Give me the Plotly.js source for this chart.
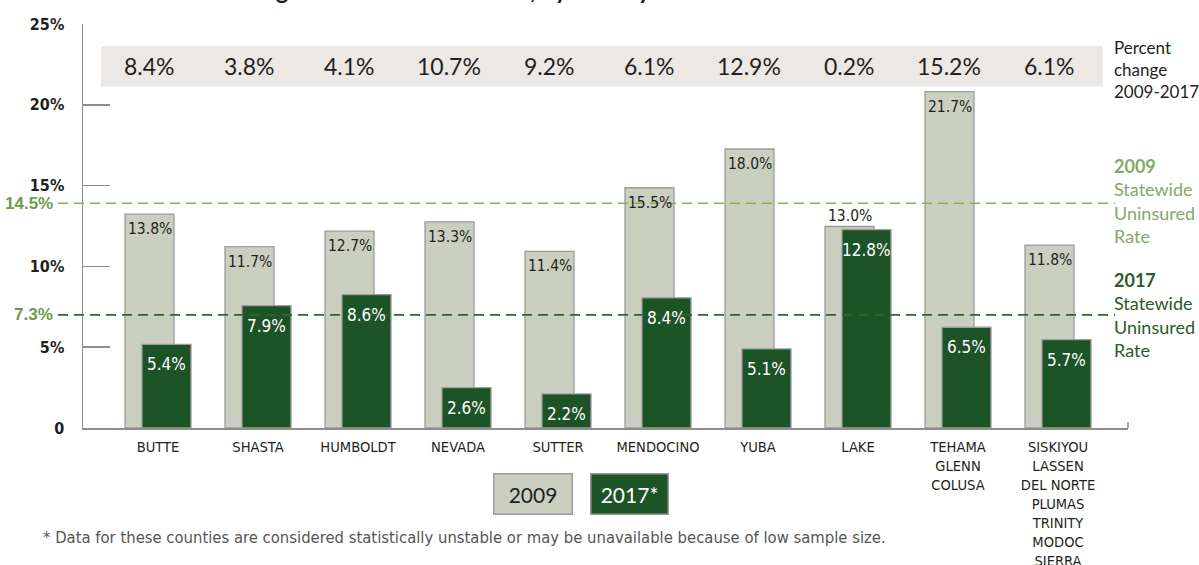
<!DOCTYPE html>
<html>
<head>
<meta charset="utf-8">
<script src="https://cdn.plot.ly/plotly-3.0.1.min.js"></script>
<style>html,body{margin:0;padding:0;background:#fff;}#chart{width:1199px;height:565px;}</style>
</head>
<body>
<div id="chart"></div>
<script>
// ---- data ----
const counties = ["BUTTE","SHASTA","HUMBOLDT","NEVADA","SUTTER","MENDOCINO","YUBA","LAKE",
  "TEHAMA<br>GLENN<br>COLUSA",
  "SISKIYOU<br>LASSEN<br>DEL NORTE<br>PLUMAS<br>TRINITY<br>MODOC<br>SIERRA"];
const rate2009 = [13.8, 11.7, 12.7, 13.3, 11.4, 15.5, 18.0, 13.0, 21.7, 11.8];
const rate2017 = [5.4, 7.9, 8.6, 2.6, 2.2, 8.4, 5.1, 12.8, 6.5, 5.7];
const pctChange = [8.4, 3.8, 4.1, 10.7, 9.2, 6.1, 12.9, 0.2, 15.2, 6.1];
const statewide2009 = 14.5;
const statewide2017 = 7.3;
const yTickVals = [0, 5, 10, 15, 20, 25];
const yTickText = ["0", "5%", "10%", "15%", "20%", "25%"];
const seriesNames = ["2009", "2017*"];
const titleText = "Figure 3: Uninsured Rates, by County in Northern California";
const footnote = "* Data for these counties are considered statistically unstable or may be unavailable because of low sample size.";

// ---- styles ----
const COND = "'Liberation Sans Narrow', 'DejaVu Sans Condensed', 'Arial Narrow', sans-serif";
const REG = "Lato, 'Open Sans', sans-serif";
const DARK_TXT = "#231f20";
const LIGHT_BAR = "#cbcfc0";
const DARK_BAR = "#1c5327";
const OUTLINE = "#9c9c9c";
const AXIS = "#8c8c8c";
const GREEN_L = "#84a866";
const GREEN_D = "#2c5a2b";

const xIdx = counties.map((_, i) => i);
const fmt = v => v.toFixed(1) + "%";

const traces = [
  // carrier for the tick axis (no visible marks)
  {type: "scatter", mode: "lines", x: xIdx, y: xIdx.map(() => null), yaxis: "y",
   hoverinfo: "skip", showlegend: false, line: {width: 0}},
  {type: "bar", name: seriesNames[0], x: xIdx, y: rate2009, yaxis: "y2",
   width: 0.49, offset: -0.33,
   marker: {color: LIGHT_BAR, line: {color: OUTLINE, width: 1.3}},
   hoverinfo: "skip", showlegend: false},
  {type: "bar", name: seriesNames[1], x: xIdx, y: rate2017, yaxis: "y2",
   width: 0.49, offset: -0.16,
   marker: {color: DARK_BAR, line: {color: OUTLINE, width: 1.3}},
   hoverinfo: "skip", showlegend: false}
];

const ann = [];
// 2009 value labels
rate2009.forEach((v, i) => {
  const above = rate2017[i] > v - 1.5;
  ann.push({x: i - 0.085, y: v, xref: "x", yref: "y2", text: fmt(v), showarrow: false,
    xanchor: "center", yanchor: above ? "bottom" : "top", yshift: above ? 0 : -4,
    font: {family: COND, size: 15.5, color: DARK_TXT}});
});
// 2017 value labels
rate2017.forEach((v, i) => {
  ann.push({x: i + 0.085, y: v, xref: "x", yref: "y2", text: fmt(v), showarrow: false,
    xanchor: "center", yanchor: "top", yshift: -8,
    font: {family: COND, size: 17, color: "#ffffff"}});
});
// percent change row
pctChange.forEach((v, i) => {
  ann.push({x: i, y: 0.896, xref: "x", yref: "paper", text: fmt(v), showarrow: false,
    xanchor: "center", yanchor: "middle", xshift: -9,
    font: {family: REG, size: 23, color: DARK_TXT}});
});
// right side texts
ann.push({x: 0.9847, y: 0.8886, xref: "paper", yref: "paper", xanchor: "left", yanchor: "middle",
  align: "left", showarrow: false, text: "Percent<br>change<br>2009-2017",
  font: {family: REG, size: 17, color: DARK_TXT}});
ann.push({x: 0.9847, y: 0.5631, xref: "paper", yref: "paper", xanchor: "left", yanchor: "middle",
  align: "left", showarrow: false, text: "<b>2009</b><br>Statewide<br>Uninsured<br>Rate",
  font: {family: REG, size: 18, color: GREEN_L}});
ann.push({x: 0.9847, y: 0.2809, xref: "paper", yref: "paper", xanchor: "left", yanchor: "middle",
  align: "left", showarrow: false, text: "<b>2017</b><br>Statewide<br>Uninsured<br>Rate",
  font: {family: REG, size: 18, color: GREEN_D}});
// statewide labels left
[statewide2009, statewide2017].forEach(v => {
  ann.push({x: -0.0268, y: v, xref: "paper", yref: "y2", xanchor: "right", yanchor: "middle",
    showarrow: false, text: "<b>" + fmt(v) + "</b>",
    font: {family: "'Liberation Sans', Arial, sans-serif", size: 17, color: "#6f9a4e"}});
});
// legend boxes
ann.push({x: 0.4306, y: -0.163, xref: "paper", yref: "paper", xanchor: "center", yanchor: "middle",
  showarrow: false, text: seriesNames[0], width: 75, height: 37, borderpad: 1,
  bgcolor: LIGHT_BAR, bordercolor: OUTLINE, borderwidth: 1.5,
  font: {family: REG, size: 21, color: DARK_TXT}});
ann.push({x: 0.5229, y: -0.163, xref: "paper", yref: "paper", xanchor: "center", yanchor: "middle",
  showarrow: false, text: seriesNames[1], width: 74, height: 37, borderpad: 1,
  bgcolor: DARK_BAR, bordercolor: OUTLINE, borderwidth: 1.5,
  font: {family: REG, size: 21, color: "#ffffff"}});
// footnote
ann.push({x: -0.0402, y: -0.272, xref: "paper", yref: "paper", xanchor: "left", yanchor: "middle",
  showarrow: false, text: footnote,
  font: {family: COND, size: 16.5, color: "#555555"}});
// title, clipped by the top edge as in the source
ann.push({x: 0.468, y: 1.0842, xref: "paper", yref: "paper", xanchor: "center", yanchor: "middle",
  showarrow: false, text: "<b>" + titleText + "</b>",
  font: {family: REG, size: 24, color: DARK_TXT}});

const shapes = [
  {type: "rect", xref: "paper", yref: "paper", x0: 0.0172, x1: 0.976, y0: 0.845, y1: 0.9455,
   fillcolor: "#ece8e5", line: {width: 0}, layer: "below"},
  {type: "line", xref: "paper", yref: "y2", x0: -0.0239, x1: 0.9876, y0: statewide2009, y1: statewide2009,
   line: {color: "#7db552", width: 1.6, dash: "10px,6px"}, layer: "above"},
  {type: "line", xref: "paper", yref: "y2", x0: -0.0239, x1: 0.9876, y0: statewide2017, y1: statewide2017,
   line: {color: "#2f6334", width: 1.6, dash: "10px,6px"}, layer: "above"},
  {type: "line", xref: "paper", yref: "paper", x0: 1, x1: 1, y0: 0, y1: 0.015,
   line: {color: AXIS, width: 1.5}}
];

const layout = {
  width: 1199, height: 565,
  margin: {l: 83, r: 71, t: 24, b: 137, pad: 0},
  paper_bgcolor: "#ffffff", plot_bgcolor: "rgba(0,0,0,0)",
  barmode: "overlay",
  showlegend: false,
  xaxis: {range: [-0.75, 9.70], tickvals: xIdx, ticktext: counties, ticks: "",
    showgrid: false, zeroline: false, showline: true, linecolor: AXIS, linewidth: 1.5,
    ticklabelstandoff: 5,
    tickfont: {family: COND, size: 14.6, color: DARK_TXT}, fixedrange: true},
  yaxis: {range: [0, 25], tickvals: yTickVals, ticktext: yTickText, ticks: "inside", ticklen: 27,
    tickcolor: AXIS, tickwidth: 1.5, showline: true, linecolor: AXIS, linewidth: 1.5,
    showgrid: false, zeroline: false, ticklabelstandoff: 14,
    tickfont: {family: COND, size: 16, color: DARK_TXT, weight: "bold"}},
  yaxis2: {range: [0, 404 / 15.5], overlaying: "y", visible: false, showgrid: false, zeroline: false},
  shapes: shapes,
  annotations: ann
};

Plotly.newPlot("chart", traces, layout, {staticPlot: true, displayModeBar: false});
</script>
</body>
</html>
